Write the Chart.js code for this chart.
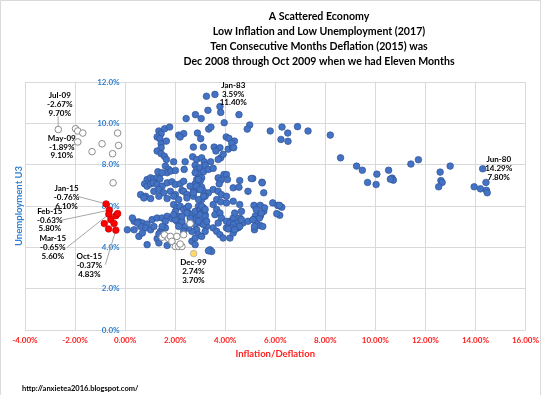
<!DOCTYPE html>
<html>
<head>
<meta charset="utf-8">
<script src="https://cdn.jsdelivr.net/npm/chart.js@4.4.1/dist/chart.umd.min.js"></script>
<style>
html, body { margin: 0; padding: 0; background: #fff; }
</style>
</head>
<body>
<canvas id="chart" width="545" height="395"></canvas>
<script>
// [inflation %, unemployment %]
var otherMonths = [
    [6.27,9.82],[6.89,9.84],[6.50,9.53],[7.31,9.63],[6.23,9.22],[6.51,9.13],[8.20,9.43],[8.61,8.33],[9.25,7.93],[9.48,7.73],
    [9.69,7.14],[10.03,7.04],[10.06,7.54],[10.53,7.73],[10.67,7.35],[10.72,7.25],[10.60,7.30],[11.42,8.03],[11.72,8.24],[12.59,7.64],
    [12.62,7.23],[12.67,7.14],[12.53,6.93],[12.99,7.93],[14.29,7.80],[13.95,6.93],[14.20,6.83],[14.42,7.14],[14.44,6.76],[14.47,6.64],
    [6.14,6.02],[6.26,5.94],[6.18,5.55],[5.80,9.63],[5.47,7.15],[5.10,7.33],[5.90,6.15],[6.10,6.03],[6.17,6.03],[6.06,5.63],
    [5.15,6.03],[5.40,6.03],[5.54,5.74],[5.21,5.53],[5.41,5.53],[5.15,5.34],[5.27,5.13],[5.40,5.05],[5.17,4.85],
    [3.25,11.31],[3.59,11.40],[3.31,10.63],[3.79,10.81],[3.82,10.53],[2.44,10.23],[2.81,10.42],[3.04,10.23],[3.96,10.03],[4.55,10.42],
    [4.98,9.92],[4.88,9.72],[1.35,9.63],[1.44,9.50],[1.58,9.74],[1.78,9.82],[1.28,9.34],[1.39,9.26],[1.44,9.01],[1.65,9.14],
    [2.14,9.43],[2.34,9.50],[2.20,9.34],[2.89,9.53],[3.02,9.26],[3.34,9.72],[3.43,9.82],[4.04,9.34],[4.15,9.27],[2.73,8.85],
    [3.13,8.85],[3.56,8.85],[3.79,8.82],[4.12,8.75],[4.29,8.85],[4.37,9.14],[4.26,9.04],[1.44,8.82],
    [1.28,8.66],[1.44,8.53],[1.57,8.41],[1.65,8.25],[1.94,8.14],[2.40,8.14],[2.70,8.38],[2.86,8.25],[3.06,8.33],[3.16,8.14],
    [3.42,8.14],[3.63,8.66],[3.82,8.33],[3.92,8.50],[4.34,8.82],[3.72,8.25],
    [1.61,7.93],[1.74,7.77],[1.68,7.61],[1.83,7.69],[2.01,7.72],[2.36,7.77],[2.80,7.97],[2.86,7.77],[3.00,7.85],[3.13,7.66],
    [2.93,7.49],[3.06,7.36],[3.00,7.20],[2.86,7.28],[2.80,7.07],[3.20,7.97],[3.33,7.77],[3.52,7.82],[3.72,7.36],[3.82,7.23],
    [3.76,7.07],[3.95,7.52],[4.05,7.52],[4.09,7.28],[4.32,6.88],[4.58,7.23],[4.55,6.91],[4.91,6.71],[5.04,7.33],[5.48,7.12],
    [5.54,6.64],
    [0.88,7.28],[1.02,7.36],[1.15,7.31],[1.28,7.36],[1.39,7.31],[1.31,7.66],[1.48,7.61],[0.78,7.07],[0.88,6.96],[1.02,7.07],
    [1.12,7.12],[1.28,7.04],[1.48,6.96],[1.68,7.12],[1.87,7.17],[2.01,7.04],[2.20,7.07],[2.34,7.20],[1.15,6.71],[1.35,6.80],
    [1.54,6.64],[1.81,6.71],[2.01,6.55],[2.27,6.75],[0.62,6.55],[0.82,6.47],[2.60,6.96],[2.73,6.71],[2.93,6.80],[3.06,6.91],
    [3.13,6.71],[3.33,6.64],[3.52,6.80],[3.72,6.71],[2.34,6.71],[2.47,6.55],[3.85,6.55],[4.05,6.47],
    [0.75,6.39],[1.02,6.36],[1.35,6.47],[1.68,6.36],[1.94,6.47],[2.14,6.31],[2.47,6.39],[2.73,6.47],[3.06,6.31],[3.20,6.47],
    [3.66,6.31],[3.82,6.20],[4.05,6.15],[4.32,6.23],[4.58,6.07],
    [0.36,5.26],[0.55,5.23],[0.69,5.18],[0.88,5.13],[1.08,5.34],[1.28,5.42],[1.48,5.42],[1.68,5.50],[1.87,5.39],[2.07,5.26],
    [2.20,5.50],[0.62,5.01],[0.82,4.94],[1.02,4.85],[1.15,5.01],[1.41,4.77],[1.61,4.94],
    [0.55,4.53],[0.88,4.13],[1.28,4.42],[1.35,4.65],[1.68,4.09],[1.35,4.21],[2.67,4.29],[2.80,4.13],
    [1.94,6.07],[2.07,5.91],[2.01,5.74],[2.20,5.99],[2.34,5.83],[2.47,5.91],[2.53,5.66],[2.67,5.58],[2.80,5.74],[2.93,5.99],
    [3.00,5.83],[3.06,5.66],[3.13,5.91],[3.20,5.58],[2.86,5.42],[2.73,5.34],[2.60,5.18],[2.80,5.10],[3.00,5.18],[3.13,5.26],
    [3.26,5.01],[2.86,4.85],[2.67,4.77],[2.53,4.94],[2.40,5.01],[2.27,5.26],[2.34,4.77],[2.93,4.61],[2.80,4.45],[3.06,4.53],
    [3.20,4.77],
    [3.52,6.07],[3.66,5.83],[3.59,5.58],[3.79,5.66],[3.85,5.42],[3.72,5.18],[3.52,4.94],[3.66,4.77],[3.79,4.61],[3.92,4.45],
    [4.05,4.94],[4.19,5.26],[4.25,5.01],[4.32,5.42],[4.38,5.66],[4.45,5.18],[4.51,4.94],[4.58,5.42],[4.65,5.74],[4.71,5.18],
    [4.91,5.26],[5.11,5.34],[5.17,5.01],[5.37,5.42],[5.50,5.01],[5.44,5.66],[5.57,5.91],[5.24,5.83],[4.19,4.45],[4.32,4.69],
    [3.39,3.88],[3.46,3.80],[3.33,3.83],
    [0.09,4.85],[0.36,4.85],[0.29,5.42],[0.49,5.18],[0.69,4.69],
    [2.80,7.61],[2.93,7.28],[2.86,6.96],[3.00,6.80],[2.73,6.64],[3.13,6.47],[2.93,6.31],[3.06,5.99],[3.20,5.83],[3.00,5.58],
    [3.20,5.50],[2.60,5.42],[2.93,5.26],[3.13,5.10],[3.26,5.26],[2.53,5.99],[2.47,5.66],[2.27,5.50],[2.14,5.01],[2.01,5.34],
    [1.94,5.58],[1.61,5.26],[1.48,5.01],
    [4.05,5.26],[4.19,5.18],[4.32,5.10],[4.58,5.01],[4.25,4.94],[4.38,4.85],[4.12,4.89],[4.65,5.34]
];
var deflation2009 = [
    [-2.67,9.70],[-1.98,9.74],[-1.89,9.63],[-1.69,9.53],[-1.89,9.10],[-1.32,8.63],
    [-0.92,9.01],[-0.50,8.53],[-0.30,9.53],[-0.26,8.93],[-0.48,7.12]
];
var deflation2015 = [
    [-0.76,6.10],[-0.63,5.80],[-0.65,5.60],[-0.57,5.34],[-0.37,5.53],
    [-0.30,5.63],[-0.83,5.15],[-0.44,5.15],[-0.66,4.89],[-0.37,4.83]
];
var recent2017 = [
    [1.48,4.49],[1.57,4.61],[1.74,4.42],[1.81,4.53],[1.87,4.29],[2.01,4.04],
    [2.14,4.04],[2.27,4.04],[2.20,4.16],[2.07,4.53],[2.60,5.15],[2.34,4.61]
];
var dec99 = [[2.74,3.70]];

var xTicks = [-4, -2, 0, 2, 4, 6, 8, 10, 12, 14, 16];
var yTicks = [0, 2, 4, 6, 8, 10, 12];

var titleLines = [
    'A Scattered Economy',
    'Low Inflation and Low Unemployment (2017)',
    'Ten Consecutive Months Deflation (2015) was',
    'Dec 2008 through Oct 2009 when we had Eleven Months'
];

// callouts: text, text centre (data units), leader start, point
var callouts = [
    { text: ['Jul-09', '-2.67%', '9.70%'], at: [-2.61, 10.92], from: [-2.68, 10.34], to: [-2.67, 9.70] },
    { text: ['May-09', '-1.89%', '9.10%'], at: [-2.53, 8.85], from: [-2.10, 8.88], to: [-1.89, 9.10] },
    { text: ['Jan-15', '-0.76%', '6.10%'], at: [-2.34, 6.42], from: [-1.88, 6.46], to: [-0.76, 6.10] },
    { text: ['Feb-15', '-0.63%', '5.80%'], at: [-3.01, 5.32], from: [-2.52, 5.32], to: [-0.63, 5.80] },
    { text: ['Mar-15', '-0.65%', '5.60%'], at: [-2.89, 4.00], from: [-2.32, 4.00], to: [-0.65, 5.60] },
    { text: ['Oct-15', '-0.37%', '4.83%'], at: [-1.43, 3.12], from: [-0.79, 3.16], to: [-0.37, 4.83] },
    { text: ['Jan-83', '3.59%', '11.40%'], at: [4.32, 11.41] },
    { text: ['Dec-99', '2.74%', '3.70%'], at: [2.73, 2.83] },
    { text: ['Jun-80', '14.29%', '7.80%'], at: [14.93, 7.82] }
];

var FONT = 'Lato, "Open Sans", sans-serif';

function toPts(arr) {
    return arr.map(function (p) { return { x: p[0], y: p[1] }; });
}

var textPlugin = {
    id: 'texts',
    beforeDatasetsDraw: function (chart) {
        var ctx = chart.ctx, xs = chart.scales.x, ys = chart.scales.y;
        ctx.save();
        ctx.strokeStyle = '#a6a6a6';
        ctx.lineWidth = 1;
        callouts.forEach(function (c) {
            if (!c.from) return;
            ctx.beginPath();
            ctx.moveTo(xs.getPixelForValue(c.from[0]), ys.getPixelForValue(c.from[1]));
            ctx.lineTo(xs.getPixelForValue(c.to[0]), ys.getPixelForValue(c.to[1]));
            ctx.stroke();
        });
        ctx.restore();
    },
    afterDraw: function (chart) {
        var ctx = chart.ctx, xs = chart.scales.x, ys = chart.scales.y, a = chart.chartArea;
        ctx.save();
        // outer border
        ctx.strokeStyle = '#d9d9d9';
        ctx.lineWidth = 1;
        ctx.beginPath();
        ctx.moveTo(0.5, 395);
        ctx.lineTo(0.5, 0.5);
        ctx.lineTo(540.5, 0.5);
        ctx.lineTo(540.5, 395);
        ctx.stroke();

        ctx.textAlign = 'center';
        ctx.textBaseline = 'middle';
        ctx.fillStyle = '#000';
        ctx.font = 'bold 10.6px ' + FONT;
        titleLines.forEach(function (t, i) {
            ctx.fillText(t, 319, 17 + i * 15);
        });

        ctx.font = 'bold 8px ' + FONT;
        callouts.forEach(function (c) {
            var cx = xs.getPixelForValue(c.at[0]);
            var cy = ys.getPixelForValue(c.at[1]);
            c.text.forEach(function (t, i) {
                ctx.fillText(t, cx, cy + (i - 1) * 8.7);
            });
        });

        // axis titles
        ctx.fillStyle = '#ff2020';
        ctx.font = 'bold 9.5px ' + FONT;
        ctx.fillText('Inflation/Deflation', (a.left + a.right) / 2, 354);

        ctx.save();
        ctx.translate(19, (a.top + a.bottom) / 2);
        ctx.rotate(-Math.PI / 2);
        ctx.fillStyle = '#2f80d0';
        ctx.fillText('Unemployment U3', 0, 0);
        ctx.restore();

        ctx.fillStyle = '#000';
        ctx.textAlign = 'left';
        ctx.font = 'bold 7.5px ' + FONT;
        ctx.fillText('http://anxietea2016.blogspot.com/', 22, 389);
        ctx.restore();
    }
};

var baseDot = { pointRadius: 3.3, pointHoverRadius: 3.3, pointBorderWidth: 0.7 };

new Chart(document.getElementById('chart'), {
    type: 'scatter',
    data: {
        datasets: [
            Object.assign({ label: 'Dec-99', data: toPts(dec99), backgroundColor: '#ffd966', borderColor: '#a6a6a6', order: 0 }, baseDot),
            Object.assign({ label: '2015', data: toPts(deflation2015), backgroundColor: '#ff0000', borderColor: '#c00000', order: 1 }, baseDot),
            Object.assign({ label: '2009', data: toPts(deflation2009), backgroundColor: '#ffffff', borderColor: '#8c8c8c', order: 2 }, baseDot, { pointBorderWidth: 1 }),
            Object.assign({ label: '2017', data: toPts(recent2017), backgroundColor: '#ffffff', borderColor: '#8c8c8c', order: 3 }, baseDot, { pointBorderWidth: 1 }),
            Object.assign({ label: 'Other', data: toPts(otherMonths), backgroundColor: '#4472c4', borderColor: '#2f5597', order: 4 }, baseDot)
        ]
    },
    options: {
        responsive: false,
        animation: false,
        layout: { padding: { left: 25, right: 15, top: 82, bottom: 0 } },
        plugins: {
            legend: { display: false },
            title: { display: false },
            tooltip: { enabled: false }
        },
        scales: {
            x: {
                type: 'linear',
                position: 'bottom',
                min: -4,
                max: 16,
                afterBuildTicks: function (s) { s.ticks = xTicks.map(function (v) { return { value: v }; }); },
                afterFit: function (s) { s.height = 65; },
                grid: { color: '#d9d9d9', drawTicks: false },
                border: { display: false },
                ticks: {
                    padding: 6,
                    color: '#ff2020',
                    font: { family: FONT, size: 8, weight: 'bold' },
                    maxRotation: 0,
                    callback: function (v) { return v.toFixed(2) + '%'; }
                }
            },
            y: {
                type: 'linear',
                position: { x: -0.22 },
                min: 0,
                max: 12,
                afterBuildTicks: function (s) { s.ticks = yTicks.map(function (v) { return { value: v }; }); },
                grid: { color: '#d9d9d9', drawTicks: false },
                border: { display: false },
                ticks: {
                    color: '#2f80d0',
                    font: { family: FONT, size: 8, weight: 'bold' },
                    callback: function (v) { return v.toFixed(1) + '%'; }
                }
            }
        }
    },
    plugins: [textPlugin]
});
</script>
</body>
</html>
